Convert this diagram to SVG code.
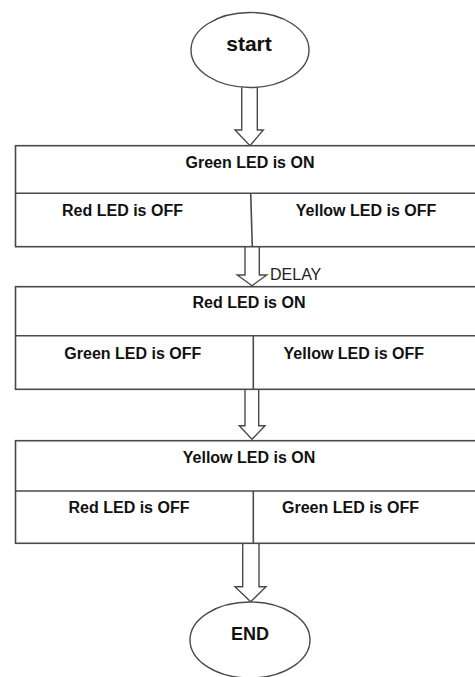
<svg xmlns="http://www.w3.org/2000/svg" width="475" height="677" viewBox="0 0 475 677">
<style>
.ln{fill:#fff;stroke:#4a4a4a;stroke-width:1.4}
.bx{fill:#fff;stroke:#4a4a4a;stroke-width:1.6}
.t{font-family:"Liberation Sans",Arial,sans-serif;font-weight:bold;font-size:16px;fill:#111;text-anchor:middle}
.d{font-family:"Liberation Sans",Arial,sans-serif;font-size:16px;fill:#222}
</style>
<rect width="475" height="677" fill="#fff"/>
<g id="connectors">
<path class="ln" d="M241.7,86 V130 H235 L250,145.7 L263.3,130 H257.3 V86"/>
<path class="ln" d="M245,246.7 V275 H237.3 L252,285.7 L266.7,275 H259.3 V246.7"/>
<path class="ln" d="M245,389.3 V425.7 H239.3 L252,439.3 L265,425.7 H258.7 V389.3"/>
<path class="ln" d="M242.7,543.3 V586.7 H235 L250.7,601.7 L266,586.7 H259 V543.3"/>
<text class="d" x="270" y="280">DELAY</text>
</g>
<g id="start">
<ellipse class="ln" cx="250" cy="50" rx="59" ry="37.5"/>
<text class="t" x="249" y="51" style="font-size:21px">start</text>
</g>
<g id="box1">
<rect class="bx" x="15.5" y="145.7" width="470" height="101"/>
<line class="bx" x1="15.5" y1="193.3" x2="485" y2="193.3"/>
<line class="bx" x1="250.7" y1="193.3" x2="252.3" y2="246.7"/>
<text class="t" x="250" y="168.3">Green LED is ON</text>
<text class="t" x="122.5" y="216">Red LED is OFF</text>
<text class="t" x="366" y="216">Yellow LED is OFF</text>
</g>
<g id="box2">
<rect class="bx" x="15.5" y="286.7" width="470" height="102.6"/>
<line class="bx" x1="15.5" y1="335.7" x2="485" y2="335.7"/>
<line class="bx" x1="253.3" y1="335.7" x2="253.3" y2="389.3"/>
<text class="t" x="249" y="308.3">Red LED is ON</text>
<text class="t" x="132.8" y="359">Green LED is OFF</text>
<text class="t" x="353.8" y="359">Yellow LED is OFF</text>
</g>
<g id="box3">
<rect class="bx" x="15.5" y="440.7" width="470" height="102.6"/>
<line class="bx" x1="15.5" y1="491" x2="485" y2="491"/>
<line class="bx" x1="253.3" y1="491" x2="253.3" y2="543.3"/>
<text class="t" x="249" y="463.3">Yellow LED is ON</text>
<text class="t" x="129" y="513.3">Red LED is OFF</text>
<text class="t" x="350.5" y="513.3">Green LED is OFF</text>
</g>
<g id="end">
<ellipse class="ln" cx="250" cy="640" rx="60" ry="38"/>
<text class="t" x="250" y="640" style="font-size:18px">END</text>
</g>
</svg>
